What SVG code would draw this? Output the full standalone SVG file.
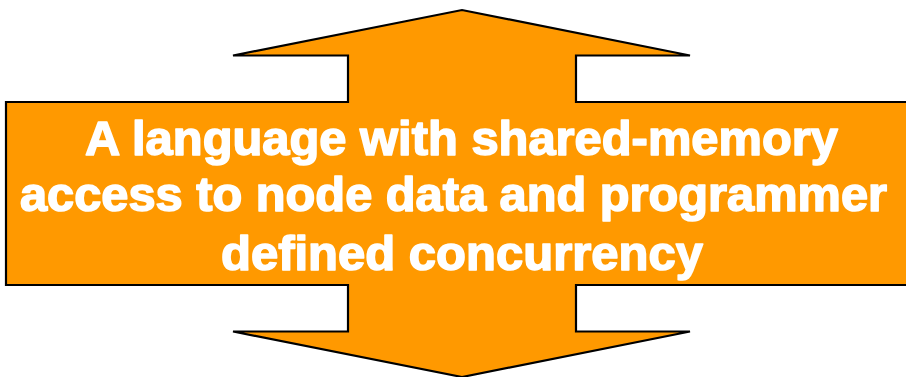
<svg xmlns="http://www.w3.org/2000/svg" width="906" height="377" viewBox="0 0 906 377">
  <style>
    .shape { fill: #FF9900; stroke: #000000; stroke-width: 2.2; stroke-linejoin: miter; }
    .label { font-family: "Liberation Sans", Arial, sans-serif; font-weight: bold; font-size: 47.5px; fill: #FFFFFF; stroke: #FFFFFF; stroke-width: 1.6; stroke-linejoin: round; }
  </style>
  <g id="double-arrow">
    <!-- up/down arrow merged with the wide horizontal band -->
    <polygon class="shape" points="6,102 348,102 348,55.5 233,55.5 462,10 690,55.5 576,55.5 576,102 910,102 910,285 576,285 576,331.5 690,331.5 462,377 233,331.5 348,331.5 348,285 6,285"/>
    <text class="label" x="85" y="154.5" textLength="753" lengthAdjust="spacingAndGlyphs">A language with shared-memory</text>
    <text class="label" x="20" y="210.5" textLength="867" lengthAdjust="spacingAndGlyphs">access to node data and programmer</text>
    <text class="label" x="221" y="269.5" textLength="482" lengthAdjust="spacingAndGlyphs">defined concurrency</text>
  </g>
</svg>
